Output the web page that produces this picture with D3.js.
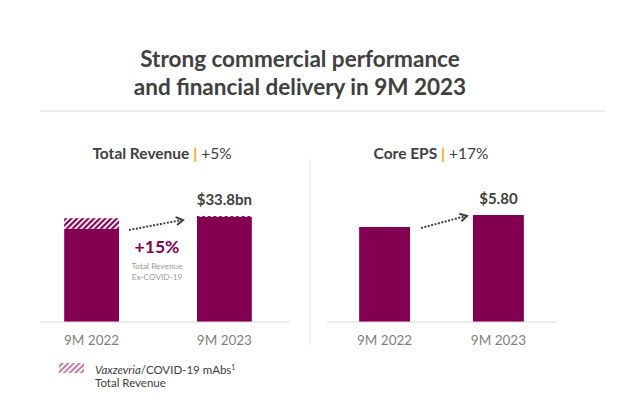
<!DOCTYPE html>
<html>
<head>
<meta charset="utf-8">
<script src="https://cdn.jsdelivr.net/npm/d3@7"></script>
<style>
  body { margin: 0; background: #fff; }
  svg { display: block; font-family: Lato, "Open Sans", sans-serif; }
</style>
</head>
<body>
<svg id="chart" width="618" height="399"></svg>
<script>
const categories = ['9M 2022', '9M 2023'];
const revenueExCovid = [29.7, 33.5];
const revenueCovid = [3.4, 0.3];
const revenueLabels = [null, '$33.8bn'];
const coreEps = [5.15, 5.80];
const epsLabels = [null, '$5.80'];

const titleLines = ['Strong commercial performance', 'and financial delivery in 9M 2023'];
const purple = '#830051';
const svg = d3.select('#chart');

// hatch pattern for the COVID part
const defs = svg.append('defs');
function hatch(id, bg, line) {
  const p = defs.append('pattern').attr('id', id)
    .attr('patternUnits', 'userSpaceOnUse').attr('width', 4).attr('height', 4)
    .attr('patternTransform', 'rotate(45)');
  p.append('rect').attr('width', 4).attr('height', 4).attr('fill', bg);
  p.append('rect').attr('width', 2).attr('height', 4).attr('fill', line);
}
hatch('hatch', '#f7e6ef', purple);
hatch('hatchLight', '#fff', '#c77aa6');

svg.append('text').attr('x', 309).attr('y', 0)
  .attr('text-anchor', 'middle').attr('fill', '#404040')
  .attr('font-size', 22.5).attr('font-weight', 700)
  .selectAll('tspan').data(titleLines).enter().append('tspan')
  .attr('x', 300).attr('y', (d, i) => 67 + i * 28).text((d) => d);

svg.append('line').attr('x1', 40).attr('x2', 605).attr('y1', 111).attr('y2', 111)
  .attr('stroke', '#d9d9d9').attr('stroke-width', 1);
svg.append('line').attr('x1', 310).attr('x2', 310).attr('y1', 158).attr('y2', 345)
  .attr('stroke', '#ececec').attr('stroke-width', 1);

function subtitle(cx, bold, pct) {
  const t = svg.append('text').attr('x', cx).attr('y', 159).attr('text-anchor', 'middle')
    .attr('font-size', 15.5).attr('fill', '#404040');
  t.append('tspan').attr('font-weight', 700).text(bold + ' ');
  t.append('tspan').attr('fill', '#f0ab00').attr('font-weight', 700).text('|');
  t.append('tspan').text(' ' + pct);
}

function arrow(x1, y1, x2, y2) {
  svg.append('line').attr('x1', x1).attr('y1', y1).attr('x2', x2).attr('y2', y2)
    .attr('stroke', '#404040').attr('stroke-width', 2).attr('stroke-dasharray', '2,1.5');
  const a = Math.atan2(y2 - y1, x2 - x1);
  const s = 7;
  const pts = [[x2 - s * Math.cos(a - 0.6), y2 - s * Math.sin(a - 0.6)], [x2 + 1, y2], [x2 - s * Math.cos(a + 0.6), y2 - s * Math.sin(a + 0.6)]];
  svg.append('path').attr('d', d3.line()(pts)).attr('fill', 'none')
    .attr('stroke', '#404040').attr('stroke-width', 2);
}

function axisRow(x, y, x0, x1) {
  const g = svg.append('g').attr('transform', `translate(0,${y.range()[0]})`)
    .call(d3.axisBottom(x).tickSize(0).tickPadding(13));
  g.select('.domain').remove();
  g.append('line').attr('x1', x0).attr('x2', x1).attr('stroke', '#d9d9d9');
  g.selectAll('text').attr('font-size', 13.5).attr('fill', '#7f7f7f')
    .attr('font-family', 'Lato, "Open Sans", sans-serif');
}

// Total Revenue panel
const xRev = d3.scaleBand().domain(categories).range([31, 285]).paddingInner(0.587).paddingOuter(0.25);
const yRev = d3.scaleLinear().domain([0, 33.8]).range([322, 216]);
subtitle(162, 'Total Revenue', '+5%');
svg.append('g').selectAll('rect').data(categories).enter().append('rect')
  .attr('x', (d) => xRev(d)).attr('width', xRev.bandwidth())
  .attr('y', (d, i) => yRev(revenueExCovid[i])).attr('height', (d, i) => yRev(0) - yRev(revenueExCovid[i]))
  .attr('fill', purple);
svg.append('g').selectAll('rect').data(categories).enter().append('rect')
  .attr('x', (d) => xRev(d)).attr('width', xRev.bandwidth())
  .attr('y', (d, i) => yRev(revenueExCovid[i] + revenueCovid[i]))
  .attr('height', (d, i) => yRev(revenueExCovid[i]) - yRev(revenueExCovid[i] + revenueCovid[i]))
  .attr('fill', 'url(#hatch)');
svg.append('g').selectAll('text').data(categories).enter().append('text')
  .attr('x', (d) => xRev(d) + xRev.bandwidth() / 2)
  .attr('y', (d, i) => yRev(revenueExCovid[i] + revenueCovid[i]) - 11)
  .attr('text-anchor', 'middle').attr('font-size', 15).attr('font-weight', 700).attr('fill', '#404040')
  .text((d, i) => revenueLabels[i]);
axisRow(xRev, yRev, 40, 290);
arrow(129, 230, 182, 220);
svg.append('text').attr('x', 157).attr('y', 253).attr('text-anchor', 'middle')
  .attr('font-size', 17.5).attr('font-weight', 700).attr('fill', purple).text('+15%');
svg.append('text').attr('x', 157).attr('y', 269).attr('text-anchor', 'middle')
  .attr('font-size', 8.3).attr('fill', '#9a9a9a').text('Total Revenue');
svg.append('text').attr('x', 157).attr('y', 280).attr('text-anchor', 'middle')
  .attr('font-size', 8.3).attr('fill', '#9a9a9a').text('Ex-COVID-19');

// Core EPS panel
const xEps = d3.scaleBand().domain(categories).range([325, 558]).paddingInner(0.553).paddingOuter(0.3);
const yEps = d3.scaleLinear().domain([0, 5.80]).range([322, 215]);
subtitle(431, 'Core EPS', '+17%');
svg.append('g').selectAll('rect').data(categories).enter().append('rect')
  .attr('x', (d) => xEps(d)).attr('width', xEps.bandwidth())
  .attr('y', (d, i) => yEps(coreEps[i])).attr('height', (d, i) => yEps(0) - yEps(coreEps[i]))
  .attr('fill', purple);
svg.append('g').selectAll('text').data(categories).enter().append('text')
  .attr('x', (d) => xEps(d) + xEps.bandwidth() / 2)
  .attr('y', (d, i) => yEps(coreEps[i]) - 11)
  .attr('text-anchor', 'middle').attr('font-size', 15).attr('font-weight', 700).attr('fill', '#404040')
  .text((d, i) => epsLabels[i]);
axisRow(xEps, yEps, 327, 556);
arrow(421, 228, 466, 216);

// legend
svg.append('rect').attr('x', 59).attr('y', 363).attr('width', 25).attr('height', 10)
  .attr('fill', 'url(#hatchLight)');
const lg = svg.append('text').attr('x', 95).attr('y', 374).attr('font-size', 11.5).attr('fill', '#404040');
lg.append('tspan').attr('font-style', 'italic').text('Vaxzevria');
lg.append('tspan').text('/COVID-19 mAbs');
lg.append('tspan').attr('font-size', 7).attr('dy', -4).text('1');
svg.append('text').attr('x', 95).attr('y', 387).attr('font-size', 11.5).attr('fill', '#404040').text('Total Revenue');
</script>
</body>
</html>
